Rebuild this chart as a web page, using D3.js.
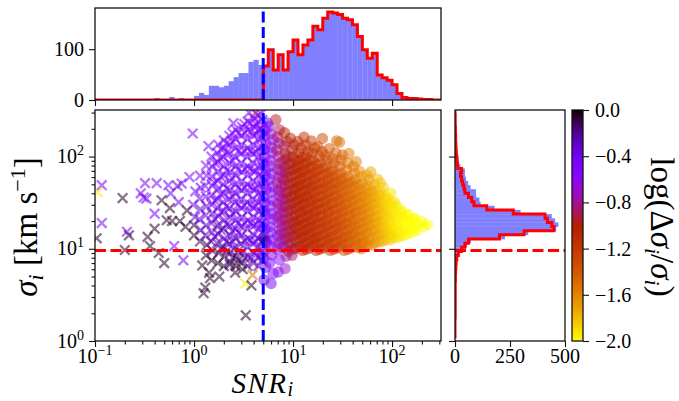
<!DOCTYPE html>
<html><head><meta charset="utf-8">
<script src="https://cdn.jsdelivr.net/npm/d3@7"></script>
<style>
body{margin:0;background:#fff}
svg{display:block}
</style>
</head><body>
<svg id="chart" width="679" height="401"></svg>
<script>
// ---------------- DATA ----------------
const snrCut = 5;        // vertical blue dashed line
const sigmaCut = 9.6;    // horizontal red dashed line

// top histogram (log10 SNR bins)
const topBinStart = -1, topBinStep = 0.05;
const topAll = [0,0,0,0,0,0,0,0,0,0,0,0,
  4,0,2,6,0,4,0,2,8,14,10,28,28,25,28,37,45,53,53,75,79,69,
  67,99,59,89,59,95,118,89,108,118,145,138,161,173,171,168,161,158,148,125,99,82,92,49,44,39,30,13,
  5,3,3,2,1,1,0,0];
const topHigh = [0,0,0,0,0,0,0,0,0,0,0,0,
  0,0,0,0,0,0,0,0,0,0,0,0,0,0,0,0,0,0,0,0,0,0,
  67,99,59,89,59,95,118,89,108,118,145,138,161,173,171,168,161,158,148,125,99,82,92,49,44,39,30,13,
  5,3,3,2,1,1,0,0];

// right histogram (log10 sigma bins)
const rightBinStart = 0.026, rightBinStep = 0.045;
const rightAll = [0,0,0,0,0,1,2,1,2,2,2,2,3,3,5,5,7,9,11,14,20,38,55,73,227,333,460,470,455,440,298,180,116,111,96,95,71,60,50,45,45,24,19,16,12,10,8,6,5,4,3,2,1,1,0];
const rightHigh = [0,0,0,0,0,1,1,1,1,1,1,1,1,1,2,2,3,4,5,8,15,30,45,61,202,314,450,440,420,409,265,144,86,76,61,45,41,35,30,25,30,12,9,8,6,5,4,3,3,2,2,1,1,1,0];

// ticks
const xMajor = [0.1, 1, 10, 100];
const xMajorLabels = [["10","\u22121"],["10","0"],["10","1"],["10","2"]];
const xMinor = [0.2,0.3,0.4,0.5,0.6,0.7,0.8,0.9,2,3,4,5,6,7,8,9,20,30,40,50,60,70,80,90,200,300];
const yMajor = [1, 10, 100];
const yMajorLabels = [["10","0"],["10","1"],["10","2"]];
const yMinor = [2,3,4,5,6,7,8,9,20,30,40,50,60,70,80,90,200,300];
const topYTicks = [0, 100];
const rightXTicks = [0, 250, 500];
const cbTicks = [0, -0.4, -0.8, -1.2, -1.6, -2.0];
const cbTickLabels = ["0.0","\u22120.4","\u22120.8","\u22121.2","\u22121.6","\u22122.0"];

// low-SNR sources (crosses): [SNR, sigma, log(dsigma/sigma)]
const crossPts = [
 [0.107,41,-1.95],[0.117,49,-.45],[0.117,19,-.45],[0.104,13,-.05],[0.19,35.5,-.05],[0.32,51.5,-.45],
 [0.42,51.5,-.45],[0.29,40,-.45],[0.33,35,-.4],[0.4,24,-.45],[0.21,15.3,-.45],[0.22,14,-.05],
 [0.34,13.5,-.05],[0.4,16.5,-.05],[0.53,20.4,-.05],[0.2,9.7,-.05],[0.36,10.7,-.05],[0.44,9,-.05],
 [0.5,7,-.05],[0.63,10.7,-.45],[0.78,7.5,-.45],[0.57,27.6,-.05],[0.47,33.6,-.05],[0.58,40,-.35],
 [0.75,51,-.45],[0.68,48,-.3],[0.82,17.3,-.05],[1.0,18,-.05],[1.21,6.6,-.05],[1.25,3.3,-.05],
 [1.45,4.8,-.05],[1.42,5.5,-.05],[1.8,5,-.05],[1.3,3.8,-.05],[3.33,1.9,-.05],[3.3,4.2,-1.95],
 [3.9,5.2,-1.5],[3.1,6,-.05],[3.8,4,-.05],[2.6,5.5,-.05],[2.8,7.5,-.05],[2.3,6.7,-.25],[0.97,178,-.45],
 [0.55,49,-.45],[0.6,20,-.05],[0.85,26,-.05],[0.72,20,-.05],[0.31,36,-.45],[0.7,32,-.4],[0.9,60,-.45],
 [3.6,300,-.45],[4.2,300,-1.0],[4.6,200,-.45],[1.4,130,-.45],[2.5,230,-.45],
 [1.0,14,-.05],[1.02,22,-.3],[0.98,30,-.4],[1.03,42,-.45],
 [1.15,12,-.1],[1.17,16,-.3],[1.13,21,-.35],[1.16,27,-.3],[1.14,35,-.4],[1.17,46,-.45],[1.15,62,-.45],
 [1.32,8.5,-.05],[1.35,11,-.1],[1.3,14,-.25],[1.33,18,-.3],[1.31,23,-.35],[1.34,29,-.3],[1.32,37,-.4],[1.3,48,-.42],[1.34,62,-.45],[1.32,80,-.48],
 [1.51,7.5,-.05],[1.54,9.5,-.15],[1.49,12,-.2],[1.52,15,-.3],[1.5,19,-.35],[1.53,24,-.25],[1.51,30,-.38],[1.49,38,-.4],[1.53,48,-.42],[1.5,61,-.45],[1.52,78,-.45],[1.5,100,-.48],
 [1.74,7,-.05],[1.77,9,-.1],[1.71,11.5,-.25],[1.75,14.5,-.3],[1.72,18,-.2],[1.76,22.5,-.35],[1.74,28,-.38],[1.71,35,-.4],[1.75,44,-.42],[1.72,55,-.45],[1.76,69,-.43],[1.74,87,-.47],[1.71,110,-.48],[1.75,135,-.5],
 [2.0,6.5,-.05],[2.04,8.3,-.1],[1.97,10.5,-.2],[2.02,13,-.3],[1.98,16.5,-.15],[2.03,20.5,-.35],[2.0,25.5,-.3],[1.97,32,-.4],[2.02,40,-.42],[1.98,50,-.4],[2.03,63,-.45],[2.0,79,-.45],[1.97,99,-.47],[2.02,124,-.5],[2.0,150,-.48],
 [2.29,7,-.08],[2.33,9,-.15],[2.25,11.3,-.25],[2.31,14,-.3],[2.27,17.5,-.35],[2.32,22,-.3],[2.29,27.5,-.38],[2.25,34.5,-.4],[2.31,43,-.35],[2.27,54,-.43],[2.32,68,-.45],[2.29,85,-.45],[2.25,107,-.47],[2.31,134,-.48],[2.28,168,-.5],
 [2.63,6.5,-.05],[2.67,8.3,-.2],[2.59,10.5,-.3],[2.65,13,-.25],[2.61,16.5,-.35],[2.66,20.5,-.38],[2.63,25.5,-.3],[2.59,32,-.4],[2.65,40,-.42],[2.61,50,-.4],[2.66,63,-.45],[2.63,79,-.43],[2.59,99,-.47],[2.65,124,-.45],[2.61,155,-.48],[2.66,195,-.5],
 [3.02,7,-.1],[3.07,9,-.25],[2.97,11.3,-.3],[3.04,14,-.35],[3.0,17.5,-.3],[3.06,22,-.38],[3.02,27.5,-.4],[2.97,34.5,-.35],[3.04,43,-.42],[3.0,54,-.4],[3.06,68,-.45],[3.02,85,-.43],[2.97,107,-.47],[3.04,134,-.45],[3.0,168,-.48],[3.06,210,-.5],
 [3.47,6.5,-.15],[3.52,8.3,-.25],[3.42,10.5,-.35],[3.5,13,-.3],[3.44,16.5,-.38],[3.51,20.5,-.4],[3.47,25.5,-.35],[3.42,32,-.42],[3.5,40,-.4],[3.44,50,-.45],[3.51,63,-.43],[3.47,79,-.45],[3.42,99,-.47],[3.5,124,-.45],[3.44,155,-.48],[3.51,195,-.5],[3.47,240,-.5],
 [3.98,7,-.2],[4.04,9,-.3],[3.92,11.3,-.35],[4.02,14,-.38],[3.95,17.5,-.4],[4.03,22,-.35],[3.98,27.5,-.42],[3.92,34.5,-.4],[4.02,43,-.45],[3.95,54,-.43],[4.03,68,-.45],[3.98,85,-.47],[3.92,107,-.45],[4.02,134,-.48],[3.95,168,-.5],[4.03,210,-.48],[3.98,260,-.5],
 [4.47,6.5,-.25],[4.53,8.3,-.35],[4.41,10.5,-.38],[4.5,13,-.4],[4.44,16.5,-.42],[4.52,20.5,-.4],[4.47,25.5,-.45],[4.41,32,-.43],[4.5,40,-.45],[4.44,50,-.47],[4.52,63,-.45],[4.47,79,-.48],[4.41,99,-.47],[4.5,124,-.5],[4.44,155,-.48],[4.52,195,-.5],[4.47,240,-.5],[4.41,280,-.52],
 [4.85,7.5,-.3],[4.9,9.5,-.38],[4.8,12,-.4],[4.88,15,-.42],[4.83,19,-.45],[4.9,24,-.43],[4.85,30,-.45],[4.8,38,-.47],[4.88,48,-.45],[4.83,61,-.48],[4.9,78,-.47],[4.85,100,-.5],[4.8,127,-.48],[4.88,160,-.5],[4.83,200,-.52],[4.9,250,-.5],[4.75,290,-.55],
 [1.62,13.5,-.3],[1.62,21,-.35],[1.64,33,-.4],[1.6,52,-.45],[1.63,85,-.45],
 [1.87,10,-.15],[1.86,16,-.3],[1.88,25,-.4],[1.85,39,-.42],[1.87,60,-.45],[1.86,95,-.47],[1.88,120,-.48],
 [2.15,9.5,-.2],[2.14,12,-.3],[2.16,18.5,-.35],[2.13,29,-.4],[2.15,45,-.42],[2.14,71,-.45],[2.16,112,-.47],[2.13,140,-.48],
 [2.45,8,-.1],[2.46,12,-.3],[2.44,15.5,-.35],[2.47,24,-.4],[2.45,37,-.42],[2.43,58,-.45],[2.46,90,-.47],[2.45,145,-.48],[2.44,180,-.5],
 [2.8,9.5,-.2],[2.82,15,-.35],[2.79,19,-.4],[2.81,30,-.4],[2.8,46,-.43],[2.78,72,-.45],[2.82,115,-.47],[2.8,180,-.5],
 [3.25,8,-.2],[3.24,12.2,-.3],[3.26,19,-.4],[3.23,29.5,-.42],[3.25,46,-.43],[3.27,73,-.45],[3.24,115,-.47],[3.26,180,-.5],[3.22,225,-.5],
 [3.72,8,-.3],[3.7,12.5,-.35],[3.74,19,-.4],[3.71,30,-.42],[3.73,47,-.45],[3.7,74,-.45],[3.72,115,-.47],[3.74,185,-.5],[3.7,230,-.5],
 [4.22,8.5,-.35],[4.2,12,-.4],[4.24,18.5,-.42],[4.21,29,-.45],[4.23,45,-.45],[4.2,70,-.47],[4.22,112,-.48],[4.24,175,-.5],[4.2,225,-.5]
];

// high-SNR sources (circles): [SNR, sigma, log(dsigma/sigma)]
const circlePts = [
 [5.1,4.6,-.35],[5.3,6.3,-.4],[5.05,7.9,-.3],[5.2,9.8,-.38],[5.4,11.8,-.42],[5.1,13.5,-.33],[5.25,16.5,-.45],[5.05,19,-.36],[5.3,22.8,-.4],[5.15,26,-.3],[5.2,31.9,-.44],[5.05,36.5,-.38],[5.35,44,-.35],[5.1,51,-.42],[5.2,61.5,-.4],[5.3,71,-.36],[5.05,86,-.45],[5.2,99,-.4],[5.1,119,-.38],[5.3,137,-.42],[5.15,166,-.5],[5.2,192,-.45],[5.5,231,-.4],[5.15,12.4,-.1],
 [6.0,4.2,-.4],[6.3,5.4,-.45],[5.8,7,-.5],[6.1,8.6,-.48],[5.9,10.7,-.55],[6.2,12.4,-.5],[6.0,15.1,-.45],[5.8,17.4,-.52],[6.3,20.9,-.6],[6.1,24,-.5],[5.9,29.2,-.55],[6.2,33.6,-.48],[6.0,40.8,-.6],[6.2,47,-.55],[5.8,56.5,-.5],[6.1,65,-.6],[6.0,79,-.55],[5.9,91,-.62],[6.2,110,-.58],[6.0,126,-.65],[6.3,152,-.6],[5.9,176,-.7],[5.7,212,-.55],
 [7.1,5.6,-.55],[7.3,7.6,-.6],[6.9,9.9,-.65],[7.2,11.5,-.7],[7.0,13.9,-.6],[7.3,16,-.72],[7.1,19.3,-.68],[6.9,22.3,-.75],[7.2,26.9,-.7],[7.0,31,-.78],[7.3,37.5,-.7],[7.1,43.2,-.75],[6.9,52,-.8],[7.2,60,-.72],[7.0,73,-.78],[7.3,84,-.82],[7.1,101,-.8],[6.9,118,-.85],[7.2,140,-.8],[7.0,163,-.85],[7.3,195,-.9],[6.7,251,-.95],
 [8.3,6.1,-.7],[8.5,8.3,-.75],[8.1,10.5,-.8],[8.4,12.8,-.85],[8.2,14.8,-.82],[8.5,17.8,-.88],[8.3,20.5,-.85],[8.1,24.7,-.9],[8.4,28.7,-.88],[8.2,34.5,-.92],[8.5,40,-.9],[8.3,48,-.95],[8.1,55.5,-.92],[8.4,67,-.9],[8.2,77,-.95],[8.5,93,-.92],[8.3,108,-.95],[8.1,130,-.9],[8.7,145,-.95],[8.2,181,-1.0],
 [9.8,8.5,-.85],[10,9.9,-.9],[9.6,11.6,-.92],[9.9,13.8,-.95],[9.7,16.1,-.9],[10,19.2,-.95],[9.8,22.4,-.93],[9.6,26.5,-.97],[9.9,31.3,-.95],[9.7,37.2,-.98],[10,43.5,-.95],[9.8,51.8,-1.0],[9.6,61,-.97],[9.9,72,-.95],[9.7,85,-1.0],[10,100,-.97],[9.8,118,-1.0],[10.3,134,-.95],[9.4,158,-1.0],
 [11.5,10.6,-.95],[11.8,12.7,-1.0],[11.3,14.8,-.97],[11.6,17.7,-1.02],[11.4,20.6,-1.0],[11.7,24.6,-1.03],[11.5,28.8,-1.0],[11.3,34.2,-1.05],[11.6,40,-1.02],[11.4,47.6,-1.05],[11.7,56,-1.03],[11.5,66.3,-1.05],[11.3,78,-1.02],[11.6,92,-1.05],[11.4,109,-1.08],[12.1,124,-1.05],[11.2,146,-1.1],
 [13.5,9.9,-1.0],[13.8,11.5,-1.03],[13.2,13.8,-1.05],[13.6,16.2,-1.03],[13.4,19,-1.07],[13.7,22.6,-1.05],[13.5,26.5,-1.08],[13.2,31.5,-1.06],[13.6,37,-1.1],[13.4,43.8,-1.08],[13.7,51.5,-1.1],[13.5,61,-1.12],[13.2,72,-1.1],[13.6,85,-1.12],[13.4,100,-1.15],[14.2,114,-1.12],[13.5,134,-1.15],[12.9,162,-1.1],
 [15.8,10.8,-1.05],[16.1,12.6,-1.08],[15.5,15,-1.06],[15.9,17.5,-1.1],[15.7,20.8,-1.08],[16,24.4,-1.12],[15.8,29,-1.1],[15.5,34,-1.13],[15.9,40.3,-1.15],[15.7,47.4,-1.13],[16,56.2,-1.17],[15.8,66,-1.15],[15.5,78.3,-1.18],[15.9,92,-1.2],[15.7,109,-1.18],[16.6,124,-1.22],[15.3,148,-1.2],
 [18.6,9.9,-1.1],[19,11.7,-1.12],[18.2,13.6,-1.1],[18.8,16.3,-1.14],[18.4,19.1,-1.12],[18.9,22.6,-1.15],[18.6,26.5,-1.17],[18.2,31.4,-1.15],[18.8,37.1,-1.2],[18.4,43.6,-1.18],[18.9,51.7,-1.22],[18.6,60.8,-1.2],[18.2,72,-1.25],[18.8,85,-1.22],[18.4,100,-1.27],[19.6,113,-1.25],[17.8,128,-1.3],
 [21.9,10.6,-1.15],[22.4,12.6,-1.17],[21.5,14.9,-1.15],[22.1,17.6,-1.2],[21.7,20.7,-1.18],[22.3,24.5,-1.22],[21.9,28.9,-1.2],[21.5,34.1,-1.25],[22.1,40.2,-1.23],[21.7,47.5,-1.27],[22.3,56,-1.25],[21.9,66,-1.3],[21.5,78,-1.28],[22.1,92,-1.32],[21.1,103,-1.3],[23.2,122,-1.35],[19.8,157,-1.3],
 [25.7,9.9,-1.2],[26.3,11.6,-1.22],[25.2,13.7,-1.2],[26,16.2,-1.25],[25.5,19.1,-1.23],[26.2,22.5,-1.27],[25.7,26.6,-1.25],[25.2,31.4,-1.3],[26,37,-1.28],[25.5,43.7,-1.32],[26.2,51.6,-1.3],[25.7,61,-1.35],[25.2,72,-1.33],[26,85,-1.37],[25,95,-1.35],[27,110,-1.4],
 [30.2,10.7,-1.25],[30.9,12.6,-1.27],[29.6,14.9,-1.25],[30.5,17.6,-1.3],[29.9,20.7,-1.28],[30.8,24.5,-1.32],[30.2,28.9,-1.3],[29.6,34.1,-1.35],[30.5,40.2,-1.33],[29.9,47.5,-1.37],[30.8,56,-1.35],[30.2,66,-1.4],[29.6,78,-1.38],[30.5,92,-1.42],[31.5,104,-1.4],[27.6,148,-1.45],[29.5,143,-1.5],
 [35.5,9.9,-1.35],[36.3,11.6,-1.37],[34.8,13.7,-1.35],[35.9,16.2,-1.4],[35.1,19.1,-1.38],[36.2,22.5,-1.42],[35.5,26.6,-1.4],[34.8,31.4,-1.45],[35.9,37,-1.43],[35.1,43.7,-1.47],[36.2,51.6,-1.45],[35.5,61,-1.5],[34.8,72,-1.48],[35.9,85,-1.52],[36.6,108,-1.55],
 [41.7,10.7,-1.4],[42.6,12.6,-1.42],[40.9,14.9,-1.4],[42.2,17.6,-1.45],[41.2,20.7,-1.43],[42.5,24.5,-1.47],[41.7,28.9,-1.45],[40.9,34.1,-1.5],[42.2,40.2,-1.48],[41.2,47.5,-1.52],[42.5,56,-1.5],[41.7,66,-1.55],[40.9,78,-1.53],[43.5,88,-1.57],
 [49,10,-1.5],[50,11.6,-1.52],[48,13.7,-1.5],[49.6,16.2,-1.55],[48.5,19.1,-1.53],[50,22.5,-1.57],[49,26.6,-1.55],[48,31.4,-1.6],[49.6,37,-1.58],[48.5,43.7,-1.62],[50,51.6,-1.6],[49,61,-1.65],[47,69,-1.63],[61,68,-1.7],
 [57.5,11,-1.55],[58.7,12.6,-1.58],[56.4,14.9,-1.56],[58.2,17.6,-1.6],[57,20.7,-1.58],[58.6,24.5,-1.62],[57.5,28.9,-1.6],[56.4,34.1,-1.65],[58.2,40.2,-1.63],[57,47.5,-1.67],[58.6,56,-1.65],[55.5,63,-1.7],
 [67.6,11.6,-1.65],[69,13.7,-1.68],[66.3,16.2,-1.66],[68.4,19.1,-1.7],[67,22.5,-1.72],[68.9,26.6,-1.7],[67.6,31.4,-1.75],[66.3,37,-1.73],[68.4,43.7,-1.77],[66,50,-1.75],[71,57,-1.8],
 [79.4,12,-1.75],[81,14.9,-1.78],[77.8,17.6,-1.76],[80.4,20.7,-1.8],[78.6,24.5,-1.82],[80.9,28.9,-1.8],[79.4,34.1,-1.83],[77.8,40.2,-1.82],[82,46,-1.85],[76,52,-1.83],
 [93,12.5,-1.85],[95,14.5,-1.87],[91,16.2,-1.85],[94,19.1,-1.9],[92,22.5,-1.88],[95,26.6,-1.9],[93,31.4,-1.92],[90,36,-1.9],[97,40,-1.92],
 [110,13.2,-1.9],[112,15.3,-1.92],[108,17.6,-1.95],[111,20.7,-1.93],[109,24.5,-1.95],[112,28.9,-1.95],[106,32,-1.93],
 [129,13.9,-1.95],[132,16.2,-1.97],[127,19.1,-1.98],[131,22.5,-1.96],[125,26,-1.97],
 [151,14.7,-2],[154,17.3,-1.98],[149,20.3,-2],[146,23.5,-1.98],
 [178,15.8,-2],[181,18.6,-2],[172,21.2,-1.99],
 [209,17.3,-2],[200,19.8,-2],[228,18.3,-2],
 // dense core
 [7.7,10.4,-.78],[7.8,12.5,-.75],[7.6,14.6,-.8],[7.7,17.5,-.78],[7.8,20.5,-.82],[7.6,24.5,-.76],[7.7,29,-.8],[7.8,34,-.78],[7.6,41,-.82],[7.7,48,-.8],[7.8,58,-.84],[7.6,70,-.8],[7.7,88,-.85],
 [9.0,9.4,-.88],[9.1,11.2,-.9],[8.9,13.3,-.92],[9.0,15.6,-.9],[9.1,18.4,-.93],[8.9,21.6,-.9],[9.0,25.5,-.92],[9.1,30,-.94],[8.9,35.6,-.92],[9.0,42,-.95],[9.1,50,-.93],[8.9,59,-.95],[9.0,70,-.93],[9.1,84,-.96],[8.9,101,-.95],
 [10.6,10.2,-.96],[10.7,12,-.98],[10.5,14.2,-.97],[10.6,16.7,-1.0],[10.7,19.7,-.98],[10.5,23.2,-1.0],[10.6,27.4,-.98],[10.7,32.3,-1.01],[10.5,38,-1.0],[10.6,45,-1.02],[10.7,53,-1.0],[10.5,63,-1.03],[10.6,75,-1.01],[10.7,90,-1.04],
 [12.5,9.6,-1.02],[12.6,11.3,-1.03],[12.4,13.3,-1.04],[12.5,15.6,-1.02],[12.6,18.4,-1.05],[12.4,21.7,-1.03],[12.5,25.6,-1.05],[12.6,30.2,-1.06],[12.4,35.6,-1.04],[12.5,42,-1.07],[12.6,49.6,-1.06],[12.4,58.5,-1.08],[12.5,69,-1.07],[12.6,82,-1.09],[12.4,97,-1.1],
 [14.6,10.2,-1.07],[14.7,12,-1.08],[14.5,14.2,-1.07],[14.6,16.7,-1.09],[14.7,19.7,-1.08],[14.5,23.2,-1.1],[14.6,27.4,-1.09],[14.7,32.3,-1.11],[14.5,38,-1.1],[14.6,45,-1.12],[14.7,53,-1.11],[14.5,63,-1.14],[14.6,75,-1.13],[14.7,90,-1.16],
 [17.1,9.6,-1.11],[17.2,11.3,-1.12],[17.0,13.3,-1.11],[17.1,15.6,-1.13],[17.2,18.4,-1.12],[17.0,21.7,-1.14],[17.1,25.6,-1.13],[17.2,30.2,-1.15],[17.0,35.6,-1.14],[17.1,42,-1.17],[17.2,49.6,-1.16],[17.0,58.5,-1.19],[17.1,69,-1.18],[17.2,82,-1.21],
 [20.2,10.2,-1.16],[20.3,12,-1.17],[20.1,14.2,-1.16],[20.2,16.7,-1.18],[20.3,19.7,-1.17],[20.1,23.2,-1.19],[20.2,27.4,-1.18],[20.3,32.3,-1.21],[20.1,38,-1.2],[20.2,45,-1.23],[20.3,53,-1.22],[20.1,63,-1.25],[20.2,75,-1.26],
 [23.7,9.6,-1.21],[23.8,11.3,-1.22],[23.6,13.3,-1.21],[23.7,15.6,-1.23],[23.8,18.4,-1.22],[23.6,21.7,-1.25],[23.7,25.6,-1.24],[23.8,30.2,-1.27],[23.6,35.6,-1.26],[23.7,42,-1.29],[23.8,49.6,-1.28],[23.6,58.5,-1.31],[23.7,69,-1.32],
 [27.9,10.2,-1.27],[28,12,-1.28],[27.8,14.2,-1.27],[27.9,16.7,-1.29],[28,19.7,-1.28],[27.8,23.2,-1.31],[27.9,27.4,-1.3],[28,32.3,-1.33],[27.8,38,-1.32],[27.9,45,-1.35],[28,53,-1.34],[27.8,63,-1.37],
 [32.8,9.6,-1.33],[32.9,11.3,-1.34],[32.7,13.3,-1.33],[32.8,15.6,-1.36],[32.9,18.4,-1.35],[32.7,21.7,-1.38],[32.8,25.6,-1.37],[32.9,30.2,-1.4],[32.7,35.6,-1.39],[32.8,42,-1.42],[32.9,49.6,-1.41],[32.7,58,-1.44],
 [38.5,10.2,-1.4],[38.6,12,-1.41],[38.4,14.2,-1.4],[38.5,16.7,-1.43],[38.6,19.7,-1.42],[38.4,23.2,-1.45],[38.5,27.4,-1.44],[38.6,32.3,-1.47],[38.4,38,-1.46],[38.5,45,-1.49],[38.6,53,-1.48],
 [45.3,10.4,-1.47],[45.4,11.3,-1.48],[45.2,13.3,-1.47],[45.3,15.6,-1.5],[45.4,18.4,-1.49],[45.2,21.7,-1.52],[45.3,25.6,-1.51],[45.4,30.2,-1.54],[45.2,35.6,-1.53],[45.3,42,-1.56],[45.4,49.6,-1.55],
 [53.2,10.6,-1.54],[53.3,12,-1.55],[53.1,14.2,-1.55],[53.2,16.7,-1.57],[53.3,19.7,-1.56],[53.1,23.2,-1.59],[53.2,27.4,-1.58],[53.3,32.3,-1.61],[53.1,38,-1.6],[53.2,45,-1.63],
 [62.5,11,-1.62],[62.6,13.3,-1.63],[62.4,15.6,-1.64],[62.5,18.4,-1.66],[62.6,21.7,-1.65],[62.4,25.6,-1.68],[62.5,30.2,-1.67],[62.6,35.6,-1.7],[62.4,42,-1.69],
 [73.4,12,-1.71],[73.5,14.2,-1.72],[73.3,16.7,-1.73],[73.4,19.7,-1.75],[73.5,23.2,-1.74],[73.3,27.4,-1.77],[73.4,32.3,-1.76],[73.5,38,-1.78],
 [86.2,12.6,-1.8],[86.3,15.6,-1.82],[86.1,18.4,-1.83],[86.2,21.7,-1.85],[86.3,25.6,-1.84],[86.1,30.2,-1.86],[86.2,35,-1.87],
 [101,13,-1.88],[102,14.2,-1.89],[100,16.7,-1.9],[101,19.7,-1.92],[102,23.2,-1.91],[100,27.4,-1.93],[101,31,-1.92],
 [119,13.6,-1.94],[120,15.6,-1.95],[118,18.4,-1.96],[119,21.7,-1.97],[120,25.6,-1.96],
 [140,14.5,-1.98],[141,16.7,-1.99],[139,19.7,-2],[140,23,-1.99],
 [165,15.5,-2],[166,18.4,-2],[164,21,-2]
];

// ---------------- DRAWING ----------------
const svg = d3.select("#chart");
const FF = "Liberation Serif";
const FONT = 20, SUP = 14;
const SPINE = "#111", SPW = 1.3;

const PM = {l:95, r:441, t:110, b:341};   // main panel
const PT = {l:95, r:441, t:8, b:100};     // top histogram
const PR = {l:455, r:565, t:110, b:341};  // right histogram
const PC = {l:572, r:583, t:110, b:341};  // colorbar

const x = d3.scaleLog().domain([0.1, 312]).range([PM.l, PM.r]);
const y = d3.scaleLog().domain([1, 320]).range([PM.b, PM.t]);
const yTop = d3.scaleLinear().domain([0, 181]).range([PT.b, PT.t]);
const xRight = d3.scaleLinear().domain([0, 500]).range([PR.l, PR.r]);
const cbScale = d3.scaleLinear().domain([-2, 0]).range([PC.b, PC.t]);

function gnuplot(t){
  t = Math.max(0, Math.min(1, t));
  const r = Math.sqrt(t), g = t*t*t, b = Math.max(0, Math.sin(2*Math.PI*t));
  return d3.rgb(r*255, g*255, b*255).formatHex();
}
const colorOf = c => gnuplot(-c/2);

const defs = svg.append("defs");
function clip(id, p){
  defs.append("clipPath").attr("id", id).append("rect")
    .attr("x", p.l).attr("y", p.t).attr("width", p.r-p.l).attr("height", p.b-p.t);
}
clip("clipM", PM); clip("clipT", PT); clip("clipR", PR);

function frame(p){
  svg.append("rect").attr("x", p.l).attr("y", p.t).attr("width", p.r-p.l).attr("height", p.b-p.t)
    .attr("fill", "none").attr("stroke", SPINE).attr("stroke-width", SPW);
}
function styleAxis(g){
  g.select(".domain").remove();
  g.selectAll("line").attr("stroke", SPINE).attr("stroke-width", 1.1);
}
function addText(g){
  return g.append("text").attr("font-family", FF).attr("fill", "#000");
}
function supText(g, px, py, base, exp, anchor){
  const t = addText(g).attr("x", px).attr("y", py).attr("text-anchor", anchor).attr("font-size", FONT);
  t.append("tspan").text(base);
  t.append("tspan").attr("font-size", SUP).attr("dy", -8).text(exp);
  return t;
}

// ---- MAIN PANEL ----
const gm = svg.append("g").attr("clip-path", "url(#clipM)");
gm.selectAll("path.cross").data(crossPts).join("path")
  .attr("class", "cross")
  .attr("transform", d => `translate(${x(d[0])},${y(d[1])})`)
  .attr("d", "M-4.8,-4.8L4.8,4.8M-4.8,4.8L4.8,-4.8")
  .attr("fill", "none").attr("stroke", d => colorOf(d[2])).attr("stroke-width", 2.3)
  .attr("opacity", 0.55);
gm.selectAll("circle.pt").data(circlePts).join("circle")
  .attr("class", "pt")
  .attr("cx", d => x(d[0])).attr("cy", d => y(d[1])).attr("r", 5.7)
  .attr("fill", d => colorOf(d[2])).attr("fill-opacity", 0.5);
gm.append("line").attr("x1", PM.l).attr("x2", PM.r).attr("y1", y(sigmaCut)).attr("y2", y(sigmaCut))
  .attr("stroke", "#ff0000").attr("stroke-width", 3).attr("stroke-dasharray", "11,4.5");
gm.append("line").attr("x1", x(snrCut)).attr("x2", x(snrCut)).attr("y1", PM.b).attr("y2", PM.t)
  .attr("stroke", "#0000ff").attr("stroke-width", 3).attr("stroke-dasharray", "11,4.5");
frame(PM);

// main axes
svg.append("g").attr("transform", `translate(0,${PM.b})`)
  .call(d3.axisBottom(x).tickValues(xMajor).tickSize(6).tickFormat(() => "")).call(styleAxis);
svg.append("g").attr("transform", `translate(0,${PM.b})`)
  .call(d3.axisBottom(x).tickValues(xMinor).tickSize(3.5).tickFormat(() => "")).call(styleAxis);
svg.append("g").attr("transform", `translate(${PM.l},0)`)
  .call(d3.axisLeft(y).tickValues(yMajor).tickSize(6).tickFormat(() => "")).call(styleAxis);
svg.append("g").attr("transform", `translate(${PM.l},0)`)
  .call(d3.axisLeft(y).tickValues(yMinor).tickSize(3.5).tickFormat(() => "")).call(styleAxis);
const labs = svg.append("g");
xMajor.forEach((v, i) => supText(labs, x(v), 363, xMajorLabels[i][0], xMajorLabels[i][1], "middle"));
yMajor.forEach((v, i) => supText(labs, 84, y(v) + 6.5, yMajorLabels[i][0], yMajorLabels[i][1], "end"));

// axis titles
const xt = addText(svg).attr("x", 263).attr("y", 393).attr("text-anchor", "middle")
  .attr("font-size", 29).attr("font-style", "italic").attr("letter-spacing", 1.5);
xt.append("tspan").text("SNR");
xt.append("tspan").attr("font-size", 20).attr("dy", 3).text("i");

const yt = addText(svg).attr("transform", "translate(37,227) rotate(-90)")
  .attr("text-anchor", "middle").attr("font-size", 33);
yt.append("tspan").attr("font-style", "italic").text("σ");
yt.append("tspan").attr("font-style", "italic").attr("font-size", 22).attr("dy", 6).text("i");
yt.append("tspan").attr("dy", -6).text(" [km s");
yt.append("tspan").attr("font-size", 22).attr("dy", -12).text("\u22121");
yt.append("tspan").attr("dy", 12).text("]");

// ---- TOP HISTOGRAM ----
const topEdge = k => Math.pow(10, topBinStart + topBinStep*k);
const gt = svg.append("g").attr("clip-path", "url(#clipT)");
gt.selectAll("rect.bar").data(topAll.map((v,k)=>({k, v})).filter(d => d.v > 0)).join("rect")
  .attr("class", "bar")
  .attr("x", d => x(topEdge(d.k))).attr("width", d => x(topEdge(d.k+1)) - x(topEdge(d.k)) + 0.3)
  .attr("y", d => yTop(d.v)).attr("height", d => yTop(0) - yTop(d.v))
  .attr("fill", "#8080ff");
const topStep = [[x(topEdge(0)), yTop(0)]];
topHigh.forEach((v, k) => { topStep.push([x(topEdge(k)), yTop(v)]); topStep.push([x(topEdge(k+1)), yTop(v)]); });
topStep.push([x(topEdge(topHigh.length)), yTop(0)]);
gt.append("path").attr("d", d3.line()(topStep)).attr("fill", "none")
  .attr("stroke", "#ff0000").attr("stroke-width", 3).attr("stroke-linejoin", "miter");
gt.append("line").attr("x1", x(snrCut)).attr("x2", x(snrCut)).attr("y1", PT.b).attr("y2", PT.t)
  .attr("stroke", "#0000ff").attr("stroke-width", 3).attr("stroke-dasharray", "11,4.5");
frame(PT);
svg.append("g").attr("transform", `translate(0,${PT.b})`)
  .call(d3.axisBottom(x).tickValues(xMajor).tickSize(6).tickFormat(() => "")).call(styleAxis);
svg.append("g").attr("transform", `translate(${PT.l},0)`)
  .call(d3.axisLeft(yTop).tickValues(topYTicks).tickSize(6).tickFormat(() => "")).call(styleAxis);
topYTicks.forEach(v => addText(svg).attr("x", 84).attr("y", yTop(v) + 6.5)
  .attr("text-anchor", "end").attr("font-size", FONT).text(v));

// ---- RIGHT HISTOGRAM ----
const rEdge = k => Math.pow(10, rightBinStart + rightBinStep*k);
const gr = svg.append("g").attr("clip-path", "url(#clipR)");
gr.selectAll("rect.bar").data(rightAll.map((v,k)=>({k, v})).filter(d => d.v > 0)).join("rect")
  .attr("class", "bar")
  .attr("x", xRight(0)).attr("width", d => xRight(d.v) - xRight(0))
  .attr("y", d => y(rEdge(d.k+1))).attr("height", d => y(rEdge(d.k)) - y(rEdge(d.k+1)) + 0.3)
  .attr("fill", "#8080ff");
const rStep = [[xRight(0), y(rEdge(0))]];
rightHigh.forEach((v, k) => { rStep.push([xRight(v), y(rEdge(k))]); rStep.push([xRight(v), y(rEdge(k+1))]); });
rStep.push([xRight(0), y(rEdge(rightHigh.length))]);
gr.append("path").attr("d", d3.line()(rStep)).attr("fill", "none")
  .attr("stroke", "#ff0000").attr("stroke-width", 3);
gr.append("line").attr("x1", PR.l).attr("x2", PR.r).attr("y1", y(sigmaCut)).attr("y2", y(sigmaCut))
  .attr("stroke", "#ff0000").attr("stroke-width", 3).attr("stroke-dasharray", "11,4.5");
frame(PR);
svg.append("g").attr("transform", `translate(0,${PR.b})`)
  .call(d3.axisBottom(xRight).tickValues(rightXTicks).tickSize(6).tickFormat(() => "")).call(styleAxis);
svg.append("g").attr("transform", `translate(${PR.l},0)`)
  .call(d3.axisLeft(y).tickValues(yMajor).tickSize(6).tickFormat(() => "")).call(styleAxis);
rightXTicks.forEach(v => addText(svg).attr("x", xRight(v)).attr("y", 363)
  .attr("text-anchor", "middle").attr("font-size", FONT).text(v));

// ---- COLORBAR ----
const grad = defs.append("linearGradient").attr("id", "cbGrad")
  .attr("x1", 0).attr("y1", 1).attr("x2", 0).attr("y2", 0);
d3.range(0, 1.0001, 0.02).forEach(f => grad.append("stop")
  .attr("offset", f).attr("stop-color", colorOf(-2 + 2*f)));
svg.append("rect").attr("x", PC.l).attr("y", PC.t).attr("width", PC.r-PC.l).attr("height", PC.b-PC.t)
  .attr("fill", "url(#cbGrad)");
frame(PC);
svg.append("g").attr("transform", `translate(${PC.r},0)`)
  .call(d3.axisRight(cbScale).tickValues(cbTicks).tickSize(6).tickFormat(() => "")).call(styleAxis);
cbTicks.forEach((v, i) => addText(svg).attr("x", 595).attr("y", cbScale(v) + 7)
  .attr("font-size", FONT).text(cbTickLabels[i]));
const ct = addText(svg).attr("transform", "translate(651,227) rotate(90)")
  .attr("text-anchor", "middle").attr("font-size", 33);
ct.append("tspan").text("log(Δ");
ct.append("tspan").attr("font-style", "italic").text("σ");
ct.append("tspan").attr("font-style", "italic").attr("font-size", 22).attr("dy", 6).text("i");
ct.append("tspan").attr("dy", -6).text("/");
ct.append("tspan").attr("font-style", "italic").text("σ");
ct.append("tspan").attr("font-style", "italic").attr("font-size", 22).attr("dy", 6).text("i");
ct.append("tspan").attr("dy", -6).text(")");
</script>
</body></html>
